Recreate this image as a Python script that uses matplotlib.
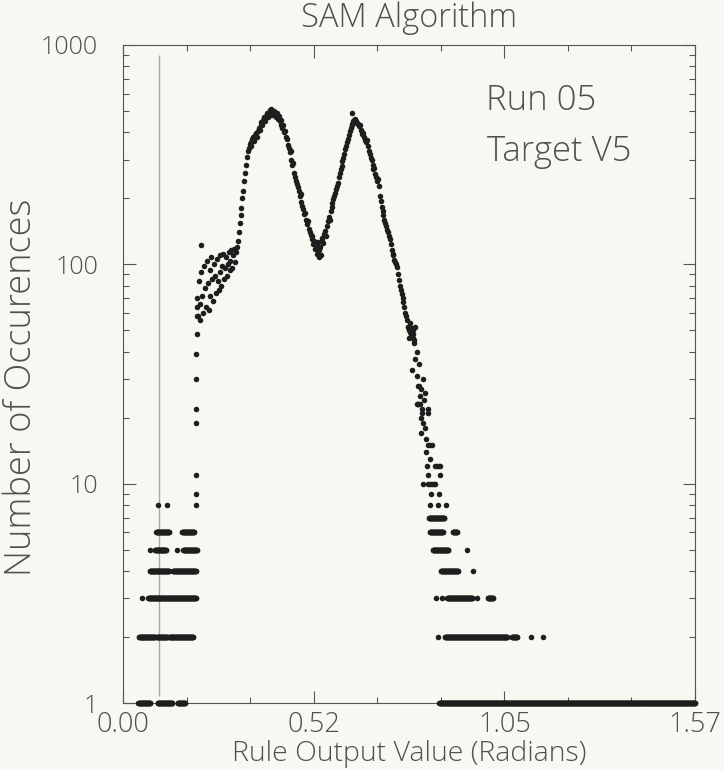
import numpy as np
import matplotlib
matplotlib.use("Agg")
import matplotlib.pyplot as plt

# main curve: one count per bin, bins start at 0.205 rad and are 0.0025 rad apart
curve_start = 0.205
curve_step = 0.0025
curve_counts = [
    58, 84, 66, 56, 92, 72, 60, 98, 78, 64, 104, 82, 62, 94, 72, 108, 86, 68, 100, 88,
    74, 106, 84, 76, 110, 92, 80, 98, 112, 86, 96, 108, 88, 100, 114, 94, 104, 116, 96, 110,
    118, 102, 114, 120,
    128, 140, 155, 168, 180, 200, 215, 240, 262, 285,   # 0.315
    310, 330, 340, 352, 360, 345, 372, 380, 366, 390,   # 0.340
    395, 380, 405, 420, 410, 430, 445, 432, 455, 468,   # 0.365
    450, 475, 488, 470, 492, 505, 480, 510, 495, 478,   # 0.390
    500, 485, 470, 490, 462, 475, 450, 455, 430, 420,   # 0.415
    432, 400, 405, 380, 372, 350, 340, 325, 330, 300,   # 0.440
    285, 290, 262, 250, 240, 232, 225, 215, 205, 210,   # 0.465
    192, 185, 178, 170, 172, 160, 152, 158, 145, 140,   # 0.490
    136, 130, 135, 124, 128, 118, 122, 112, 126, 116,   # 0.515
    120, 110, 128, 132, 125, 138, 142, 135, 150, 158,   # 0.540
    165, 160, 175, 182, 190, 198, 205, 212, 220, 228,   # 0.565
    236, 250, 262, 272, 282, 295, 305, 320, 335, 348,   # 0.590
    360, 372, 390, 405, 418, 430, 438, 448, 455, 460,   # 0.615
    450, 442, 435, 425, 430, 410, 400, 392, 398, 380,   # 0.640
    370, 362, 368, 345, 330, 318, 305, 300, 285, 272,   # 0.665
    275, 258, 250, 240, 245, 228, 205, 195, 182, 175,   # 0.690
    168, 160, 155, 150, 144, 140, 135, 130, 124, 116,   # 0.715
    112, 110, 105, 102, 100, 97, 90, 85, 80, 76,        # 0.740
    73, 70, 67, 64, 60, 58, 56, 52, 50, 49,             # 0.765
    48, 51, 46, 48, 44,                                 # 0.790
]

# single points: steep rise, outliers and the right-hand tail
single_x = [0.1995, 0.1995, 0.200, 0.2005, 0.2005, 0.201, 0.2015, 0.202, 0.2025, 0.203, 0.2035,
            0.214, 0.629, 0.538,
            0.783, 0.786, 0.789, 0.792, 0.795, 0.798, 0.801, 0.802, 0.794, 0.806, 0.810,
            0.812, 0.816, 0.810, 0.808, 0.813, 0.818, 0.807, 0.811, 0.816, 0.827, 0.824,
            0.828, 0.821, 0.838, 0.821, 0.838, 0.818, 0.824, 0.829, 0.818, 0.832, 0.838,
            0.843, 0.849, 0.832, 0.843, 0.835, 0.857, 0.862, 0.867, 0.871, 0.838, 0.871,
            0.824, 0.838, 0.843, 0.848, 0.853, 0.857, 0.846, 0.868, 0.843, 0.865, 0.887]
single_y = [8, 9, 11, 19, 22, 30, 39, 48, 58, 64, 70,
            122, 490, 108,
            52, 46, 54, 47, 50, 45, 52, 37, 33, 40, 28,
            35, 25, 23, 31, 28, 27, 23, 23, 23, 24, 30,
            26, 22, 22, 21, 21, 20, 19, 18, 17, 16, 15,
            15, 15, 14, 13, 12, 12, 12, 12, 12, 11, 11,
            10, 10, 10, 10, 10, 10, 9, 9, 8, 8, 8]

# horizontal runs of low counts: (count, from, to) in radians
runs = [
    (1, 0.042, 0.075), (1, 0.095, 0.135), (1, 0.150, 0.170),
    (2, 0.044, 0.088), (2, 0.093, 0.121), (2, 0.126, 0.192),
    (3, 0.052, 0.052), (3, 0.069, 0.200),
    (4, 0.074, 0.126), (4, 0.137, 0.200),
    (5, 0.074, 0.074), (5, 0.088, 0.118), (5, 0.148, 0.148), (5, 0.165, 0.203),
    (6, 0.091, 0.126), (6, 0.162, 0.195),
    (8, 0.096, 0.096), (8, 0.121, 0.121),
    (7, 0.840, 0.882),
    (6, 0.843, 0.879), (6, 0.906, 0.917),
    (5, 0.851, 0.893), (5, 0.945, 0.945),
    (4, 0.873, 0.920), (4, 0.961, 0.961),
    (3, 0.860, 0.860), (3, 0.876, 0.876), (3, 0.890, 0.959), (3, 0.972, 0.972), (3, 1.002, 1.016),
    (2, 0.865, 0.865), (2, 0.884, 1.055), (2, 1.068, 1.082), (2, 1.120, 1.120), (2, 1.153, 1.153),
    (1, 0.868, 1.571),
]
run_step = 0.001

# thin vertical reference line
ref_x = 0.099
ref_lo, ref_hi = 1.08, 900

x_ticks = [0.0, np.pi / 6, np.pi / 3, np.pi / 2]
x_tick_labels = ["0.00", "0.52", "1.05", "1.57"]
y_ticks = [1, 10, 100, 1000]
y_tick_labels = ["1", "10", "100", "1000"]

bg = "#f8f8f3"
txt = "#505050"

plt.rcParams["font.family"] = ["Open Sans", "DejaVu Sans"]
plt.rcParams["font.weight"] = "light"
plt.rcParams["axes.titleweight"] = "light"
plt.rcParams["axes.labelweight"] = "light"

fig = plt.figure(figsize=(7.24, 7.70), dpi=100, facecolor=bg)
ax = fig.add_axes([0.170, 0.087, 0.790, 0.8546], facecolor=bg)

curve_x = curve_start + curve_step * np.arange(len(curve_counts))
run_x, run_y = [], []
for count, x0, x1 in runs:
    xs = np.arange(x0, x1 + run_step / 2, run_step)
    run_x.extend(xs)
    run_y.extend([count] * len(xs))

all_x = np.concatenate([curve_x, single_x, run_x])
all_y = np.concatenate([curve_counts, single_y, run_y])

ax.vlines(ref_x, ref_lo, ref_hi, color="#a8a8a8", lw=1.0, zorder=1)
ax.scatter(all_x, all_y, s=16, c="#1e1e1e", linewidths=0, clip_on=False, zorder=3)

ax.set_yscale("log")
ax.set_xlim(0, np.pi / 2)
ax.set_ylim(1, 1000)
ax.set_xticks(x_ticks)
ax.set_xticklabels(x_tick_labels)
ax.set_xticks(np.arange(0, np.pi / 2 + 0.01, np.pi / 18), minor=True)
ax.set_yticks(y_ticks)
ax.set_yticklabels(y_tick_labels)

ax.tick_params(which="both", direction="in", top=True, right=True, color="#555555", width=0.8)
ax.tick_params(which="major", length=9)
ax.tick_params(which="minor", length=4.5)
ax.tick_params(axis="x", which="major", pad=6, labelsize=19.5, labelcolor=txt)
ax.tick_params(axis="y", which="major", pad=18, labelsize=18, labelcolor=txt)
for s in ax.spines.values():
    s.set_color("#555555")
    s.set_linewidth(0.8)

ax.set_title("SAM Algorithm", fontsize=23.5, color=txt, pad=13)
ax.set_xlabel("Rule Output Value (Radians)", fontsize=20.5, color=txt, va="center")
ax.xaxis.set_label_coords(0.5, -0.078)
ax.set_ylabel("Number of Occurences", fontsize=26, color=txt)
ax.yaxis.set_label_coords(-0.145, 0.48)

ax.text(0.635, 0.915, "Run 05", transform=ax.transAxes, fontsize=25, color=txt, va="center")
ax.text(0.637, 0.837, "Target V5", transform=ax.transAxes, fontsize=25, color=txt, va="center")

fig.savefig("out.png", dpi=100, facecolor=bg)
